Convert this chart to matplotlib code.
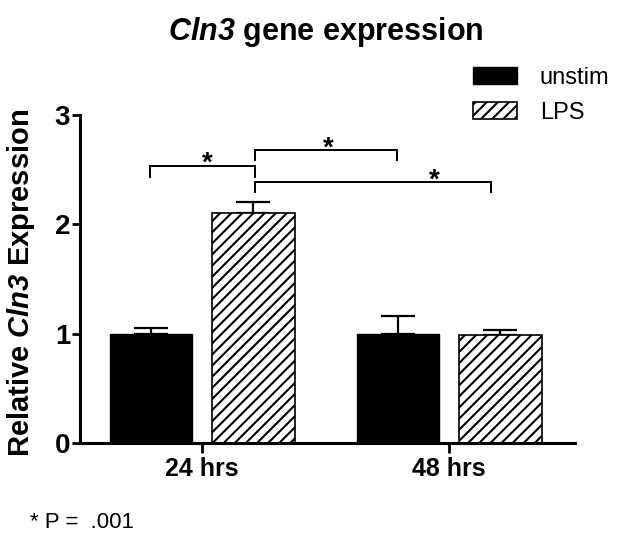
import numpy as np
import matplotlib
matplotlib.use('Agg')
from matplotlib import pyplot as plt

plt.rcParams['font.family'] = 'Liberation Sans'
plt.rcParams['mathtext.fontset'] = 'custom'
plt.rcParams['mathtext.bfit'] = 'Liberation Sans:bold:italic'
plt.rcParams['mathtext.it'] = 'Liberation Sans:italic'
plt.rcParams['mathtext.bf'] = 'Liberation Sans:bold'
plt.rcParams['mathtext.rm'] = 'Liberation Sans'
plt.rcParams['hatch.linewidth'] = 1.5

# data
groups = ['24 hrs', '48 hrs']
unstim = [1.00, 1.00]
unstim_sem = [0.05, 0.16]
lps = [2.10, 0.99]
lps_sem = [0.10, 0.04]

# significance brackets: (x left, x right, height) and star positions
brackets = [(-0.21, 0.215, 2.53), (0.215, 0.79, 2.68), (0.215, 1.17, 2.39)]
stars = [(0.02, 2.63), (0.51, 2.77), (0.94, 2.48)]
leg = 0.095

fig = plt.figure(figsize=(6.23, 5.4), dpi=100)
ax = fig.add_axes([0.1284, 0.1796, 0.7946, 0.6074])

x = np.arange(len(groups))
w = 0.335
off = 0.207

ax.bar(x - off, unstim, w, color='black', edgecolor='black', linewidth=1,
       label='unstim', zorder=2)
ax.bar(x + off, lps, w, color='white', edgecolor='black', linewidth=1.2,
       hatch='///', label='LPS', zorder=2)

# only upper error bars
ax.errorbar(x - off, unstim, yerr=[np.zeros(2), unstim_sem], fmt='none',
            ecolor='black', elinewidth=1.6, capsize=12, capthick=1.6, zorder=1)
ax.errorbar(x + off, lps, yerr=[np.zeros(2), lps_sem], fmt='none',
            ecolor='black', elinewidth=1.6, capsize=12, capthick=1.6, zorder=1)

for x1, x2, y in brackets:
    ax.plot([x1, x1, x2, x2], [y - leg, y, y, y - leg], color='black', lw=1.4,
            solid_joinstyle='miter')
for sx, sy in stars:
    ax.text(sx, sy - 0.14, '*', ha='center', va='baseline', fontsize=20,
            fontweight='bold')

ax.set_xlim(-0.494, 1.51)
ax.set_ylim(0, 3)
ax.set_yticks([0, 1, 2, 3])
ax.set_xticks(x)
ax.set_xticklabels(groups, fontsize=18, fontweight='bold')
for lab in ax.get_yticklabels():
    lab.set_fontsize(20)
    lab.set_fontweight('bold')

ax.spines['top'].set_visible(False)
ax.spines['right'].set_visible(False)
ax.spines['left'].set_linewidth(2.2)
ax.spines['bottom'].set_linewidth(2.2)
ax.tick_params(axis='y', length=6, width=2, pad=1)
ax.tick_params(axis='x', length=7, width=2, pad=3)

fig.text(0.522, 1 - 40 / 540, r'$\mathbfit{Cln3}$ gene expression',
         ha='center', va='baseline', fontsize=22, fontweight='bold')
fig.text(0.034, 1 - 283 / 540, r'Relative $\mathbfit{Cln3}$ Expression',
         ha='center', va='center', rotation=90, fontsize=21, fontweight='bold')
fig.text(30 / 623, 1 - 528 / 540, '* P =  .001', ha='left', va='baseline',
         fontsize=16)

fig.legend(loc='upper left', bbox_to_anchor=(473 / 623, 1 - 67 / 540),
           frameon=False, fontsize=17, handlelength=1.86, handleheight=0.72,
           handletextpad=0.97, labelspacing=0.55, borderpad=0, borderaxespad=0)

plt.savefig('out.png', dpi=100)
